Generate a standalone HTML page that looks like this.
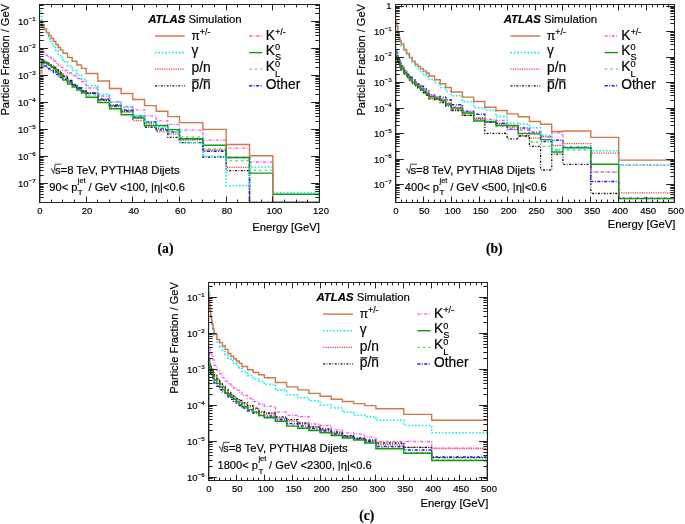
<!DOCTYPE html>
<html><head><meta charset="utf-8"><style>
html,body{margin:0;padding:0;background:#fff;}
svg{display:block;filter:blur(0.3px);}
text{font-family:"Liberation Sans", sans-serif;fill:#000;stroke:#000;stroke-width:0.18px;}
text.serif{font-family:"Liberation Serif", serif;}
</style></head><body>
<svg width="685" height="524" viewBox="0 0 685 524">
<rect width="685" height="524" fill="#fff"/>
<clipPath id="clipa"><rect x="39.5" y="4.5" width="280" height="198"/></clipPath>
<g clip-path="url(#clipa)" fill="none" stroke-linejoin="miter">
<path d="M39.5,204.5 L39.5,72 L41.83,72 L41.83,62 L44.17,62 L44.17,63 L46.5,63 L46.5,64.5 L48.83,64.5 L48.83,66 L51.17,66 L51.17,68 L53.5,68 L53.5,70 L55.83,70 L55.83,72 L58.17,72 L58.17,74 L60.5,74 L60.5,76 L62.83,76 L62.83,79 L67.5,79 L67.5,83 L72.17,83 L72.17,86 L76.83,86 L76.83,89 L81.5,89 L81.5,92 L86.17,92 L86.17,95 L97.83,95 L97.83,101 L109.5,101 L109.5,107 L121.17,107 L121.17,112 L132.83,112 L132.83,117 L144.5,117 L144.5,123 L156.17,123 L156.17,126 L167.83,126 L167.83,130 L179.5,130 L179.5,137 L202.83,137 L202.83,148.6 L226.17,148.6 L226.17,160.6 L249.5,160.6 L249.5,170.4 L272.83,170.4 L272.83,194.3 L319.5,194.3 L319.5,204.5" stroke="#5ee05e" stroke-width="1.3" stroke-dasharray="2.6 3"/>
<path d="M39.5,204.5 L39.5,80 L41.83,80 L41.83,60 L44.17,60 L44.17,62 L46.5,62 L46.5,63.5 L48.83,63.5 L48.83,65 L51.17,65 L51.17,67 L53.5,67 L53.5,68.5 L55.83,68.5 L55.83,70 L58.17,70 L58.17,72 L60.5,72 L60.5,74 L62.83,74 L62.83,77 L67.5,77 L67.5,81 L72.17,81 L72.17,85 L76.83,85 L76.83,88 L81.5,88 L81.5,91 L86.17,91 L86.17,93 L97.83,93 L97.83,100 L109.5,100 L109.5,106 L121.17,106 L121.17,112 L132.83,112 L132.83,120.5 L144.5,120.5 L144.5,124 L156.17,124 L156.17,131.9 L167.83,131.9 L167.83,134 L179.5,134 L179.5,140 L202.83,140 L202.83,150 L226.17,150 L226.17,167.4 L249.5,167.4 L249.5,202.5 L272.83,202.5 L272.83,202.5 L319.5,202.5 L319.5,204.5" stroke="#f23c3c" stroke-width="1.3" stroke-dasharray="1.2 1.1"/>
<path d="M39.5,204.5 L39.5,62 L41.83,62 L41.83,62 L44.17,62 L44.17,62.5 L46.5,62.5 L46.5,63 L48.83,63 L48.83,64 L51.17,64 L51.17,66 L53.5,66 L53.5,67.5 L55.83,67.5 L55.83,69 L58.17,69 L58.17,71 L60.5,71 L60.5,73 L62.83,73 L62.83,76 L67.5,76 L67.5,80.5 L72.17,80.5 L72.17,84.5 L76.83,84.5 L76.83,88 L81.5,88 L81.5,91 L86.17,91 L86.17,93.4 L97.83,93.4 L97.83,100 L109.5,100 L109.5,106 L121.17,106 L121.17,111 L132.83,111 L132.83,117.4 L144.5,117.4 L144.5,127.3 L156.17,127.3 L156.17,130 L167.83,130 L167.83,137.3 L179.5,137.3 L179.5,142.6 L202.83,142.6 L202.83,157 L226.17,157 L226.17,170.6 L249.5,170.6 L249.5,202.5 L272.83,202.5 L272.83,202.5 L319.5,202.5 L319.5,204.5" stroke="#111111" stroke-width="1.3" stroke-dasharray="2 1.5 0.8 1.5"/>
<path d="M39.5,204.5 L39.5,58 L41.83,58 L41.83,64 L44.17,64 L44.17,66 L46.5,66 L46.5,67.5 L48.83,67.5 L48.83,69 L51.17,69 L51.17,71 L53.5,71 L53.5,72.5 L55.83,72.5 L55.83,74.5 L58.17,74.5 L58.17,76.3 L60.5,76.3 L60.5,77.5 L62.83,77.5 L62.83,79 L67.5,79 L67.5,82 L72.17,82 L72.17,85 L76.83,85 L76.83,88 L81.5,88 L81.5,91 L86.17,91 L86.17,93 L97.83,93 L97.83,99 L109.5,99 L109.5,105 L121.17,105 L121.17,110 L132.83,110 L132.83,115.9 L144.5,115.9 L144.5,122 L156.17,122 L156.17,128.5 L167.83,128.5 L167.83,131.9 L179.5,131.9 L179.5,138.7 L202.83,138.7 L202.83,151.3 L226.17,151.3 L226.17,157.5 L249.5,157.5 L249.5,202.5 L272.83,202.5 L272.83,202.5 L319.5,202.5 L319.5,204.5" stroke="#1a1ae6" stroke-width="1.5" stroke-dasharray="3 1.5 0.9 1.5"/>
<path d="M39.5,204.5 L39.5,50 L41.83,50 L41.83,51.5 L44.17,51.5 L44.17,53.5 L46.5,53.5 L46.5,55.5 L48.83,55.5 L48.83,57.5 L51.17,57.5 L51.17,59 L53.5,59 L53.5,61 L55.83,61 L55.83,63 L58.17,63 L58.17,65.5 L60.5,65.5 L60.5,67.5 L62.83,67.5 L62.83,70.5 L67.5,70.5 L67.5,73 L72.17,73 L72.17,75.5 L76.83,75.5 L76.83,78.5 L81.5,78.5 L81.5,81.5 L86.17,81.5 L86.17,88 L97.83,88 L97.83,96 L109.5,96 L109.5,102 L121.17,102 L121.17,106.5 L132.83,106.5 L132.83,109.8 L144.5,109.8 L144.5,115.9 L156.17,115.9 L156.17,120.9 L167.83,120.9 L167.83,124.3 L179.5,124.3 L179.5,130.1 L202.83,130.1 L202.83,140.2 L226.17,140.2 L226.17,148.2 L249.5,148.2 L249.5,162 L272.83,162 L272.83,202.5 L319.5,202.5 L319.5,204.5" stroke="#f25ce0" stroke-width="1.3" stroke-dasharray="3 1.5 0.9 1.5"/>
<path d="M39.5,204.5 L39.5,68 L41.83,68 L41.83,60.5 L44.17,60.5 L44.17,62 L46.5,62 L46.5,63.5 L48.83,63.5 L48.83,65 L51.17,65 L51.17,67 L53.5,67 L53.5,69 L55.83,69 L55.83,71.5 L58.17,71.5 L58.17,73.5 L60.5,73.5 L60.5,76 L62.83,76 L62.83,80 L67.5,80 L67.5,84 L72.17,84 L72.17,87 L76.83,87 L76.83,90 L81.5,90 L81.5,93 L86.17,93 L86.17,97.3 L97.83,97.3 L97.83,102.6 L109.5,102.6 L109.5,108.7 L121.17,108.7 L121.17,114.8 L132.83,114.8 L132.83,118 L144.5,118 L144.5,125.8 L156.17,125.8 L156.17,125.5 L167.83,125.5 L167.83,129.6 L179.5,129.6 L179.5,138.8 L202.83,138.8 L202.83,145.3 L226.17,145.3 L226.17,157.5 L249.5,157.5 L249.5,173.1 L272.83,173.1 L272.83,194.3 L319.5,194.3 L319.5,204.5" stroke="#109a10" stroke-width="1.4"/>
<path d="M39.5,204.5 L39.5,11 L41.83,11 L41.83,22 L44.17,22 L44.17,29 L46.5,29 L46.5,34 L48.83,34 L48.83,39 L51.17,39 L51.17,43.5 L53.5,43.5 L53.5,47.5 L55.83,47.5 L55.83,51 L58.17,51 L58.17,54.3 L60.5,54.3 L60.5,57.5 L62.83,57.5 L62.83,61.7 L67.5,61.7 L67.5,66 L72.17,66 L72.17,70.5 L76.83,70.5 L76.83,75 L81.5,75 L81.5,79 L86.17,79 L86.17,85.8 L97.83,85.8 L97.83,94.2 L109.5,94.2 L109.5,101.8 L121.17,101.8 L121.17,107.2 L132.83,107.2 L132.83,115.9 L144.5,115.9 L144.5,122.4 L156.17,122.4 L156.17,127.6 L167.83,127.6 L167.83,131.9 L179.5,131.9 L179.5,142.6 L202.83,142.6 L202.83,156.3 L226.17,156.3 L226.17,185.7 L249.5,185.7 L249.5,167 L272.83,167 L272.83,192.5 L319.5,192.5 L319.5,204.5" stroke="#0aeef0" stroke-width="1.6" stroke-dasharray="1.6 1.8"/>
<path d="M39.5,204.5 L39.5,21 L41.83,21 L41.83,26 L44.17,26 L44.17,29.5 L46.5,29.5 L46.5,32.5 L48.83,32.5 L48.83,35.5 L51.17,35.5 L51.17,38.5 L53.5,38.5 L53.5,41.5 L55.83,41.5 L55.83,44.5 L58.17,44.5 L58.17,47.5 L60.5,47.5 L60.5,50 L62.83,50 L62.83,53.2 L67.5,53.2 L67.5,57.5 L72.17,57.5 L72.17,61.2 L76.83,61.2 L76.83,65 L81.5,65 L81.5,68.4 L86.17,68.4 L86.17,73.5 L97.83,73.5 L97.83,81 L109.5,81 L109.5,88.5 L121.17,88.5 L121.17,93.5 L132.83,93.5 L132.83,99.5 L144.5,99.5 L144.5,105.6 L156.17,105.6 L156.17,111.3 L167.83,111.3 L167.83,116.6 L179.5,116.6 L179.5,122.6 L202.83,122.6 L202.83,129.4 L226.17,129.4 L226.17,144.5 L249.5,144.5 L249.5,155.7 L272.83,155.7 L272.83,202.5 L319.5,202.5 L319.5,204.5" stroke="#cf7848" stroke-width="1.4"/>
</g>
<rect x="39.5" y="4.5" width="280" height="198" fill="none" stroke="#222" stroke-width="1"/>
<path d="M39.5,202.5v-5.9M39.5,4.5v5.9M51.5,202.5v-2.9M51.5,4.5v2.9M62.5,202.5v-2.9M62.5,4.5v2.9M74.5,202.5v-2.9M74.5,4.5v2.9M86.5,202.5v-5.9M86.5,4.5v5.9M97.5,202.5v-2.9M97.5,4.5v2.9M109.5,202.5v-2.9M109.5,4.5v2.9M121.5,202.5v-2.9M121.5,4.5v2.9M132.5,202.5v-5.9M132.5,4.5v5.9M144.5,202.5v-2.9M144.5,4.5v2.9M156.5,202.5v-2.9M156.5,4.5v2.9M167.5,202.5v-2.9M167.5,4.5v2.9M179.5,202.5v-5.9M179.5,4.5v5.9M191.5,202.5v-2.9M191.5,4.5v2.9M202.5,202.5v-2.9M202.5,4.5v2.9M214.5,202.5v-2.9M214.5,4.5v2.9M226.5,202.5v-5.9M226.5,4.5v5.9M237.5,202.5v-2.9M237.5,4.5v2.9M249.5,202.5v-2.9M249.5,4.5v2.9M261.5,202.5v-2.9M261.5,4.5v2.9M272.5,202.5v-5.9M272.5,4.5v5.9M284.5,202.5v-2.9M284.5,4.5v2.9M296.5,202.5v-2.9M296.5,4.5v2.9M307.5,202.5v-2.9M307.5,4.5v2.9M319.5,202.5v-5.9M319.5,4.5v5.9M39.5,202.5h4.2M319.5,202.5h-4.2M39.5,197.5h4.2M319.5,197.5h-4.2M39.5,194.5h4.2M319.5,194.5h-4.2M39.5,191.5h4.2M319.5,191.5h-4.2M39.5,189.5h4.2M319.5,189.5h-4.2M39.5,187.5h4.2M319.5,187.5h-4.2M39.5,186.5h4.2M319.5,186.5h-4.2M39.5,184.5h4.2M319.5,184.5h-4.2M39.5,183.5h8.4M319.5,183.5h-8.4M39.5,175.5h4.2M319.5,175.5h-4.2M39.5,170.5h4.2M319.5,170.5h-4.2M39.5,167.5h4.2M319.5,167.5h-4.2M39.5,164.5h4.2M319.5,164.5h-4.2M39.5,162.5h4.2M319.5,162.5h-4.2M39.5,160.5h4.2M319.5,160.5h-4.2M39.5,159.5h4.2M319.5,159.5h-4.2M39.5,157.5h4.2M319.5,157.5h-4.2M39.5,156.5h8.4M319.5,156.5h-8.4M39.5,148.5h4.2M319.5,148.5h-4.2M39.5,143.5h4.2M319.5,143.5h-4.2M39.5,140.5h4.2M319.5,140.5h-4.2M39.5,137.5h4.2M319.5,137.5h-4.2M39.5,135.5h4.2M319.5,135.5h-4.2M39.5,133.5h4.2M319.5,133.5h-4.2M39.5,132.5h4.2M319.5,132.5h-4.2M39.5,130.5h4.2M319.5,130.5h-4.2M39.5,129.5h8.4M319.5,129.5h-8.4M39.5,121.5h4.2M319.5,121.5h-4.2M39.5,116.5h4.2M319.5,116.5h-4.2M39.5,113.5h4.2M319.5,113.5h-4.2M39.5,110.5h4.2M319.5,110.5h-4.2M39.5,108.5h4.2M319.5,108.5h-4.2M39.5,106.5h4.2M319.5,106.5h-4.2M39.5,105.5h4.2M319.5,105.5h-4.2M39.5,103.5h4.2M319.5,103.5h-4.2M39.5,102.5h8.4M319.5,102.5h-8.4M39.5,94.5h4.2M319.5,94.5h-4.2M39.5,89.5h4.2M319.5,89.5h-4.2M39.5,86.5h4.2M319.5,86.5h-4.2M39.5,83.5h4.2M319.5,83.5h-4.2M39.5,81.5h4.2M319.5,81.5h-4.2M39.5,79.5h4.2M319.5,79.5h-4.2M39.5,78.5h4.2M319.5,78.5h-4.2M39.5,76.5h4.2M319.5,76.5h-4.2M39.5,75.5h8.4M319.5,75.5h-8.4M39.5,67.5h4.2M319.5,67.5h-4.2M39.5,62.5h4.2M319.5,62.5h-4.2M39.5,59.5h4.2M319.5,59.5h-4.2M39.5,56.5h4.2M319.5,56.5h-4.2M39.5,54.5h4.2M319.5,54.5h-4.2M39.5,52.5h4.2M319.5,52.5h-4.2M39.5,51.5h4.2M319.5,51.5h-4.2M39.5,49.5h4.2M319.5,49.5h-4.2M39.5,48.5h8.4M319.5,48.5h-8.4M39.5,40.5h4.2M319.5,40.5h-4.2M39.5,35.5h4.2M319.5,35.5h-4.2M39.5,32.5h4.2M319.5,32.5h-4.2M39.5,29.5h4.2M319.5,29.5h-4.2M39.5,27.5h4.2M319.5,27.5h-4.2M39.5,25.5h4.2M319.5,25.5h-4.2M39.5,24.5h4.2M319.5,24.5h-4.2M39.5,22.5h4.2M319.5,22.5h-4.2M39.5,21.5h8.4M319.5,21.5h-8.4M39.5,13.5h4.2M319.5,13.5h-4.2M39.5,8.5h4.2M319.5,8.5h-4.2M39.5,5.5h4.2M319.5,5.5h-4.2" stroke="#222" stroke-width="1" fill="none"/>
<text x="39.8" y="214.4" text-anchor="middle" font-size="9.5">0</text>
<text x="87.07" y="214.4" text-anchor="middle" font-size="9.5">20</text>
<text x="133.73" y="214.4" text-anchor="middle" font-size="9.5">40</text>
<text x="180.4" y="214.4" text-anchor="middle" font-size="9.5">60</text>
<text x="227.07" y="214.4" text-anchor="middle" font-size="9.5">80</text>
<text x="274.33" y="214.4" text-anchor="middle" font-size="9.5">100</text>
<text x="321" y="214.4" text-anchor="middle" font-size="9.5">120</text>
<text x="35.7" y="25" text-anchor="end" font-size="9.5">10<tspan font-size="6.2" dy="-4.2">−1</tspan></text>
<text x="35.7" y="52" text-anchor="end" font-size="9.5">10<tspan font-size="6.2" dy="-4.2">−2</tspan></text>
<text x="35.7" y="79" text-anchor="end" font-size="9.5">10<tspan font-size="6.2" dy="-4.2">−3</tspan></text>
<text x="35.7" y="106" text-anchor="end" font-size="9.5">10<tspan font-size="6.2" dy="-4.2">−4</tspan></text>
<text x="35.7" y="133" text-anchor="end" font-size="9.5">10<tspan font-size="6.2" dy="-4.2">−5</tspan></text>
<text x="35.7" y="160" text-anchor="end" font-size="9.5">10<tspan font-size="6.2" dy="-4.2">−6</tspan></text>
<text x="35.7" y="187" text-anchor="end" font-size="9.5">10<tspan font-size="6.2" dy="-4.2">−7</tspan></text>
<text x="320" y="230.7" text-anchor="end" font-size="11.3">Energy [GeV]</text>
<text transform="translate(9.3,4) rotate(-90)" text-anchor="end" font-size="11.1">Particle Fraction / GeV</text>
<text x="148.2" y="22.8" font-size="11.4"><tspan font-weight="bold" font-style="italic">ATLAS</tspan> Simulation</text>
<path d="M155,36h29.8" stroke="#cf7848" stroke-width="1.4"/>
<text x="191.6" y="39.8" font-size="12">π</text>
<text x="199.8" y="35.2" font-size="8.8">+/-</text>
<path d="M155,52.6h29.8" stroke="#0aeef0" stroke-width="1.6" stroke-dasharray="1.6 1.8"/>
<text x="191.6" y="55.4" font-size="13.8">γ</text>
<path d="M155,69.2h29.8" stroke="#f23c3c" stroke-width="1.3" stroke-dasharray="1.2 1.1"/>
<text x="191.6" y="72.4" font-size="13.8">p/n</text>
<path d="M155,85.8h29.8" stroke="#111111" stroke-width="1.3" stroke-dasharray="2 1.5 0.8 1.5"/>
<text x="191.6" y="88.5" font-size="13.8">p/n</text>
<path d="M192.2,79.8h6.8M203.2,79.8h6.8" stroke="#111" stroke-width="1.15"/>
<path d="M249.2,36h13.2" stroke="#f25ce0" stroke-width="1.3" stroke-dasharray="3 1.5 0.9 1.5"/>
<text x="265.8" y="39.7" font-size="13.8">K</text>
<text x="275.2" y="34.6" font-size="8.8">+/-</text>
<path d="M249.2,52.6h13.2" stroke="#109a10" stroke-width="1.4"/>
<text x="265.8" y="55.1" font-size="13.8">K</text>
<text x="275" y="50.4" font-size="9.2">0</text>
<text x="275" y="59.7" font-size="9.2">S</text>
<path d="M249.2,69.2h13.2" stroke="#5ee05e" stroke-width="1.3" stroke-dasharray="2.6 3"/>
<text x="265.8" y="71.2" font-size="13.8">K</text>
<text x="275" y="67.2" font-size="9.2">0</text>
<text x="275" y="76.5" font-size="9.2">L</text>
<path d="M249.2,85.8h13.2" stroke="#1a1ae6" stroke-width="1.5" stroke-dasharray="3 1.5 0.9 1.5"/>
<text x="265.8" y="88.6" font-size="13.8">Other</text>
<text x="54.9" y="173.7" font-size="11.3">s=8 TeV, PYTHIA8 Dijets</text>
<path d="M50.6,169.3l1.1,-0.7 l1.9,4.9 l1.7,-9.3 h6.2" stroke="#222" stroke-width="0.85" fill="none"/>
<text x="49.3" y="190.5" font-size="11.1">90&lt; p</text>
<text x="77.8" y="182.6" font-size="7.4">jet</text>
<text x="77.8" y="195.4" font-size="8">T</text>
<text x="85.4" y="190.5" font-size="11.1" xml:space="preserve"> / GeV &lt;100, |η|&lt;0.6</text>
<text x="165.5" y="252.6" text-anchor="middle" font-size="13.6" font-weight="bold" class="serif">(a)</text>
<clipPath id="clipb"><rect x="395.5" y="4.5" width="279" height="198"/></clipPath>
<g clip-path="url(#clipb)" fill="none" stroke-linejoin="miter">
<path d="M395.5,204.5 L395.5,53 L396.62,53 L396.62,57 L397.73,57 L397.73,60.5 L398.85,60.5 L398.85,63.5 L399.96,63.5 L399.96,66 L401.08,66 L401.08,68.5 L403.87,68.5 L403.87,73 L406.66,73 L406.66,76.33 L409.45,76.33 L409.45,79.5 L412.24,79.5 L412.24,82.5 L415.03,82.5 L415.03,85 L417.82,85 L417.82,87 L420.61,87 L420.61,89.25 L423.4,89.25 L423.4,91.75 L426.19,91.75 L426.19,94 L428.98,94 L428.98,97 L434.56,97 L434.56,99 L440.14,99 L440.14,101 L445.72,101 L445.72,104.5 L451.3,104.5 L451.3,109 L462.46,109 L462.46,114 L473.62,114 L473.62,119 L484.78,119 L484.78,122 L495.94,122 L495.94,126.6 L507.1,126.6 L507.1,127 L518.26,127 L518.26,135 L529.42,135 L529.42,142 L540.58,142 L540.58,146.3 L551.74,146.3 L551.74,150 L562.9,150 L562.9,150 L590.8,150 L590.8,172 L618.7,172 L618.7,198.6 L674.5,198.6 L674.5,204.5" stroke="#5ee05e" stroke-width="1.3" stroke-dasharray="2.6 3"/>
<path d="M395.5,204.5 L395.5,56 L396.62,56 L396.62,58.5 L397.73,58.5 L397.73,61.5 L398.85,61.5 L398.85,64.5 L399.96,64.5 L399.96,67 L401.08,67 L401.08,70 L403.87,70 L403.87,74 L406.66,74 L406.66,77 L409.45,77 L409.45,80 L412.24,80 L412.24,83 L415.03,83 L415.03,85.5 L417.82,85.5 L417.82,87.5 L420.61,87.5 L420.61,89.75 L423.4,89.75 L423.4,92.25 L426.19,92.25 L426.19,94.62 L428.98,94.62 L428.98,98 L434.56,98 L434.56,99.5 L440.14,99.5 L440.14,101.5 L445.72,101.5 L445.72,105 L451.3,105 L451.3,110 L462.46,110 L462.46,115.4 L473.62,115.4 L473.62,119.7 L484.78,119.7 L484.78,122 L495.94,122 L495.94,124 L507.1,124 L507.1,127 L518.26,127 L518.26,135.8 L529.42,135.8 L529.42,138.1 L540.58,138.1 L540.58,136.7 L551.74,136.7 L551.74,145.5 L562.9,145.5 L562.9,143.6 L590.8,143.6 L590.8,153.1 L618.7,153.1 L618.7,192.8 L674.5,192.8 L674.5,204.5" stroke="#f23c3c" stroke-width="1.3" stroke-dasharray="1.2 1.1"/>
<path d="M395.5,204.5 L395.5,55 L396.62,55 L396.62,58 L397.73,58 L397.73,61.5 L398.85,61.5 L398.85,64.5 L399.96,64.5 L399.96,67 L401.08,67 L401.08,70 L403.87,70 L403.87,74 L406.66,74 L406.66,77.33 L409.45,77.33 L409.45,80.55 L412.24,80.55 L412.24,83.65 L415.03,83.65 L415.03,86.15 L417.82,86.15 L417.82,88.05 L420.61,88.05 L420.61,90.25 L423.4,90.25 L423.4,92.75 L426.19,92.75 L426.19,95.22 L428.98,95.22 L428.98,98.9 L434.56,98.9 L434.56,99.7 L440.14,99.7 L440.14,102.5 L445.72,102.5 L445.72,106 L451.3,106 L451.3,110.5 L462.46,110.5 L462.46,115.4 L473.62,115.4 L473.62,118.2 L484.78,118.2 L484.78,133.4 L495.94,133.4 L495.94,133.4 L507.1,133.4 L507.1,138.8 L518.26,138.8 L518.26,136 L529.42,136 L529.42,146.3 L540.58,146.3 L540.58,170 L551.74,170 L551.74,154.1 L562.9,154.1 L562.9,164.3 L590.8,164.3 L590.8,193.5 L618.7,193.5 L618.7,202.5 L674.5,202.5 L674.5,204.5" stroke="#111111" stroke-width="1.3" stroke-dasharray="2 1.5 0.8 1.5"/>
<path d="M395.5,204.5 L395.5,48 L396.62,48 L396.62,53 L397.73,53 L397.73,57.5 L398.85,57.5 L398.85,60.5 L399.96,60.5 L399.96,63 L401.08,63 L401.08,66 L403.87,66 L403.87,70.5 L406.66,70.5 L406.66,74.17 L409.45,74.17 L409.45,77.35 L412.24,77.35 L412.24,80.05 L415.03,80.05 L415.03,82.35 L417.82,82.35 L417.82,84.25 L420.61,84.25 L420.61,86.35 L423.4,86.35 L423.4,88.65 L426.19,88.65 L426.19,91.1 L428.98,91.1 L428.98,95 L434.56,95 L434.56,96.6 L440.14,96.6 L440.14,97.2 L445.72,97.2 L445.72,100 L451.3,100 L451.3,104.8 L462.46,104.8 L462.46,111.2 L473.62,111.2 L473.62,114.3 L484.78,114.3 L484.78,122.3 L495.94,122.3 L495.94,123.2 L507.1,123.2 L507.1,129.2 L518.26,129.2 L518.26,128 L529.42,128 L529.42,132.4 L540.58,132.4 L540.58,141.5 L551.74,141.5 L551.74,140.3 L562.9,140.3 L562.9,147.2 L590.8,147.2 L590.8,181.6 L618.7,181.6 L618.7,198.2 L674.5,198.2 L674.5,204.5" stroke="#1a1ae6" stroke-width="1.5" stroke-dasharray="3 1.5 0.9 1.5"/>
<path d="M395.5,204.5 L395.5,50 L396.62,50 L396.62,55 L397.73,55 L397.73,59 L398.85,59 L398.85,62 L399.96,62 L399.96,64.5 L401.08,64.5 L401.08,67.5 L403.87,67.5 L403.87,71.5 L406.66,71.5 L406.66,75.17 L409.45,75.17 L409.45,78.38 L412.24,78.38 L412.24,81.12 L415.03,81.12 L415.03,83.5 L417.82,83.5 L417.82,85.5 L420.61,85.5 L420.61,87.62 L423.4,87.62 L423.4,89.88 L426.19,89.88 L426.19,92.12 L428.98,92.12 L428.98,95.5 L434.56,95.5 L434.56,97.5 L440.14,97.5 L440.14,99 L445.72,99 L445.72,102.5 L451.3,102.5 L451.3,107 L462.46,107 L462.46,112 L473.62,112 L473.62,118.2 L484.78,118.2 L484.78,119.4 L495.94,119.4 L495.94,120.5 L507.1,120.5 L507.1,129.6 L518.26,129.6 L518.26,130 L529.42,130 L529.42,132 L540.58,132 L540.58,137 L551.74,137 L551.74,132.9 L562.9,132.9 L562.9,148 L590.8,148 L590.8,172.2 L618.7,172.2 L618.7,165.2 L674.5,165.2 L674.5,204.5" stroke="#f25ce0" stroke-width="1.3" stroke-dasharray="3 1.5 0.9 1.5"/>
<path d="M395.5,204.5 L395.5,52 L396.62,52 L396.62,56 L397.73,56 L397.73,60 L398.85,60 L398.85,63 L399.96,63 L399.96,65.5 L401.08,65.5 L401.08,68 L403.87,68 L403.87,72.5 L406.66,72.5 L406.66,75.83 L409.45,75.83 L409.45,79.05 L412.24,79.05 L412.24,82.15 L415.03,82.15 L415.03,84.65 L417.82,84.65 L417.82,86.55 L420.61,86.55 L420.61,88.83 L423.4,88.83 L423.4,91.47 L426.19,91.47 L426.19,93.75 L428.98,93.75 L428.98,96.6 L434.56,96.6 L434.56,98.2 L440.14,98.2 L440.14,100.3 L445.72,100.3 L445.72,104 L451.3,104 L451.3,108 L462.46,108 L462.46,113 L473.62,113 L473.62,121 L484.78,121 L484.78,121.5 L495.94,121.5 L495.94,125.5 L507.1,125.5 L507.1,125.5 L518.26,125.5 L518.26,133.4 L529.42,133.4 L529.42,133.9 L540.58,133.9 L540.58,139.6 L551.74,139.6 L551.74,152 L562.9,152 L562.9,147.7 L590.8,147.7 L590.8,164.3 L618.7,164.3 L618.7,198.6 L674.5,198.6 L674.5,204.5" stroke="#109a10" stroke-width="1.4"/>
<path d="M395.5,204.5 L395.5,12 L396.62,12 L396.62,24 L397.73,24 L397.73,32 L398.85,32 L398.85,37.5 L399.96,37.5 L399.96,41.5 L401.08,41.5 L401.08,46 L403.87,46 L403.87,51.5 L406.66,51.5 L406.66,55.37 L409.45,55.37 L409.45,58.97 L412.24,58.97 L412.24,62.33 L415.03,62.33 L415.03,65.62 L417.82,65.62 L417.82,68.88 L420.61,68.88 L420.61,71.83 L423.4,71.83 L423.4,74.47 L426.19,74.47 L426.19,76.72 L428.98,76.72 L428.98,79.5 L434.56,79.5 L434.56,82.9 L440.14,82.9 L440.14,87.5 L445.72,87.5 L445.72,91.5 L451.3,91.5 L451.3,95.8 L462.46,95.8 L462.46,101.8 L473.62,101.8 L473.62,107.7 L484.78,107.7 L484.78,110 L495.94,110 L495.94,116.6 L507.1,116.6 L507.1,123.2 L518.26,123.2 L518.26,124 L529.42,124 L529.42,127.7 L540.58,127.7 L540.58,135.3 L551.74,135.3 L551.74,149.6 L562.9,149.6 L562.9,148.5 L590.8,148.5 L590.8,150.7 L618.7,150.7 L618.7,164.7 L674.5,164.7 L674.5,204.5" stroke="#0aeef0" stroke-width="1.6" stroke-dasharray="1.6 1.8"/>
<path d="M395.5,204.5 L395.5,21 L396.62,21 L396.62,26 L397.73,26 L397.73,33 L398.85,33 L398.85,38 L399.96,38 L399.96,40.6 L401.08,40.6 L401.08,44 L403.87,44 L403.87,49.5 L406.66,49.5 L406.66,53.5 L409.45,53.5 L409.45,57.38 L412.24,57.38 L412.24,61.12 L415.03,61.12 L415.03,64.12 L417.82,64.12 L417.82,66.38 L420.61,66.38 L420.61,68.62 L423.4,68.62 L423.4,70.88 L426.19,70.88 L426.19,73 L428.98,73 L428.98,76 L434.56,76 L434.56,79.8 L440.14,79.8 L440.14,83.7 L445.72,83.7 L445.72,87.5 L451.3,87.5 L451.3,92 L462.46,92 L462.46,97.1 L473.62,97.1 L473.62,101.5 L484.78,101.5 L484.78,107.3 L495.94,107.3 L495.94,110.5 L507.1,110.5 L507.1,113.9 L518.26,113.9 L518.26,116.7 L529.42,116.7 L529.42,121.5 L540.58,121.5 L540.58,124.3 L551.74,124.3 L551.74,131.5 L562.9,131.5 L562.9,131 L590.8,131 L590.8,137.4 L618.7,137.4 L618.7,160.1 L674.5,160.1 L674.5,204.5" stroke="#cf7848" stroke-width="1.4"/>
</g>
<rect x="395.5" y="4.5" width="279" height="198" fill="none" stroke="#222" stroke-width="1"/>
<path d="M395.5,202.5v-5.9M395.5,4.5v5.9M401.5,202.5v-2.9M401.5,4.5v2.9M406.5,202.5v-2.9M406.5,4.5v2.9M412.5,202.5v-2.9M412.5,4.5v2.9M417.5,202.5v-2.9M417.5,4.5v2.9M423.5,202.5v-5.9M423.5,4.5v5.9M428.5,202.5v-2.9M428.5,4.5v2.9M434.5,202.5v-2.9M434.5,4.5v2.9M440.5,202.5v-2.9M440.5,4.5v2.9M445.5,202.5v-2.9M445.5,4.5v2.9M451.5,202.5v-5.9M451.5,4.5v5.9M456.5,202.5v-2.9M456.5,4.5v2.9M462.5,202.5v-2.9M462.5,4.5v2.9M468.5,202.5v-2.9M468.5,4.5v2.9M473.5,202.5v-2.9M473.5,4.5v2.9M479.5,202.5v-5.9M479.5,4.5v5.9M484.5,202.5v-2.9M484.5,4.5v2.9M490.5,202.5v-2.9M490.5,4.5v2.9M495.5,202.5v-2.9M495.5,4.5v2.9M501.5,202.5v-2.9M501.5,4.5v2.9M507.5,202.5v-5.9M507.5,4.5v5.9M512.5,202.5v-2.9M512.5,4.5v2.9M518.5,202.5v-2.9M518.5,4.5v2.9M523.5,202.5v-2.9M523.5,4.5v2.9M529.5,202.5v-2.9M529.5,4.5v2.9M535.5,202.5v-5.9M535.5,4.5v5.9M540.5,202.5v-2.9M540.5,4.5v2.9M546.5,202.5v-2.9M546.5,4.5v2.9M551.5,202.5v-2.9M551.5,4.5v2.9M557.5,202.5v-2.9M557.5,4.5v2.9M562.5,202.5v-5.9M562.5,4.5v5.9M568.5,202.5v-2.9M568.5,4.5v2.9M574.5,202.5v-2.9M574.5,4.5v2.9M579.5,202.5v-2.9M579.5,4.5v2.9M585.5,202.5v-2.9M585.5,4.5v2.9M590.5,202.5v-5.9M590.5,4.5v5.9M596.5,202.5v-2.9M596.5,4.5v2.9M601.5,202.5v-2.9M601.5,4.5v2.9M607.5,202.5v-2.9M607.5,4.5v2.9M613.5,202.5v-2.9M613.5,4.5v2.9M618.5,202.5v-5.9M618.5,4.5v5.9M624.5,202.5v-2.9M624.5,4.5v2.9M629.5,202.5v-2.9M629.5,4.5v2.9M635.5,202.5v-2.9M635.5,4.5v2.9M641.5,202.5v-2.9M641.5,4.5v2.9M646.5,202.5v-5.9M646.5,4.5v5.9M652.5,202.5v-2.9M652.5,4.5v2.9M657.5,202.5v-2.9M657.5,4.5v2.9M663.5,202.5v-2.9M663.5,4.5v2.9M668.5,202.5v-2.9M668.5,4.5v2.9M674.5,202.5v-5.9M674.5,4.5v5.9M395.5,202.5h4.2M674.5,202.5h-4.2M395.5,197.5h4.2M674.5,197.5h-4.2M395.5,194.5h4.2M674.5,194.5h-4.2M395.5,192.5h4.2M674.5,192.5h-4.2M395.5,190.5h4.2M674.5,190.5h-4.2M395.5,188.5h4.2M674.5,188.5h-4.2M395.5,187.5h4.2M674.5,187.5h-4.2M395.5,185.5h4.2M674.5,185.5h-4.2M395.5,184.5h8.4M674.5,184.5h-8.4M395.5,176.5h4.2M674.5,176.5h-4.2M395.5,172.5h4.2M674.5,172.5h-4.2M395.5,169.5h4.2M674.5,169.5h-4.2M395.5,166.5h4.2M674.5,166.5h-4.2M395.5,164.5h4.2M674.5,164.5h-4.2M395.5,163.5h4.2M674.5,163.5h-4.2M395.5,161.5h4.2M674.5,161.5h-4.2M395.5,160.5h4.2M674.5,160.5h-4.2M395.5,159.5h8.4M674.5,159.5h-8.4M395.5,151.5h4.2M674.5,151.5h-4.2M395.5,146.5h4.2M674.5,146.5h-4.2M395.5,143.5h4.2M674.5,143.5h-4.2M395.5,141.5h4.2M674.5,141.5h-4.2M395.5,139.5h4.2M674.5,139.5h-4.2M395.5,137.5h4.2M674.5,137.5h-4.2M395.5,136.5h4.2M674.5,136.5h-4.2M395.5,134.5h4.2M674.5,134.5h-4.2M395.5,133.5h8.4M674.5,133.5h-8.4M395.5,125.5h4.2M674.5,125.5h-4.2M395.5,121.5h4.2M674.5,121.5h-4.2M395.5,118.5h4.2M674.5,118.5h-4.2M395.5,115.5h4.2M674.5,115.5h-4.2M395.5,113.5h4.2M674.5,113.5h-4.2M395.5,112.5h4.2M674.5,112.5h-4.2M395.5,110.5h4.2M674.5,110.5h-4.2M395.5,109.5h4.2M674.5,109.5h-4.2M395.5,108.5h8.4M674.5,108.5h-8.4M395.5,100.5h4.2M674.5,100.5h-4.2M395.5,95.5h4.2M674.5,95.5h-4.2M395.5,92.5h4.2M674.5,92.5h-4.2M395.5,90.5h4.2M674.5,90.5h-4.2M395.5,88.5h4.2M674.5,88.5h-4.2M395.5,86.5h4.2M674.5,86.5h-4.2M395.5,85.5h4.2M674.5,85.5h-4.2M395.5,83.5h4.2M674.5,83.5h-4.2M395.5,82.5h8.4M674.5,82.5h-8.4M395.5,74.5h4.2M674.5,74.5h-4.2M395.5,70.5h4.2M674.5,70.5h-4.2M395.5,67.5h4.2M674.5,67.5h-4.2M395.5,64.5h4.2M674.5,64.5h-4.2M395.5,62.5h4.2M674.5,62.5h-4.2M395.5,61.5h4.2M674.5,61.5h-4.2M395.5,59.5h4.2M674.5,59.5h-4.2M395.5,58.5h4.2M674.5,58.5h-4.2M395.5,57.5h8.4M674.5,57.5h-8.4M395.5,49.5h4.2M674.5,49.5h-4.2M395.5,44.5h4.2M674.5,44.5h-4.2M395.5,41.5h4.2M674.5,41.5h-4.2M395.5,39.5h4.2M674.5,39.5h-4.2M395.5,37.5h4.2M674.5,37.5h-4.2M395.5,35.5h4.2M674.5,35.5h-4.2M395.5,34.5h4.2M674.5,34.5h-4.2M395.5,32.5h4.2M674.5,32.5h-4.2M395.5,31.5h8.4M674.5,31.5h-8.4M395.5,23.5h4.2M674.5,23.5h-4.2M395.5,19.5h4.2M674.5,19.5h-4.2M395.5,16.5h4.2M674.5,16.5h-4.2M395.5,13.5h4.2M674.5,13.5h-4.2M395.5,11.5h4.2M674.5,11.5h-4.2M395.5,10.5h4.2M674.5,10.5h-4.2M395.5,8.5h4.2M674.5,8.5h-4.2M395.5,7.5h4.2M674.5,7.5h-4.2M395.5,6.5h8.4M674.5,6.5h-8.4" stroke="#222" stroke-width="1" fill="none"/>
<text x="395.8" y="214.4" text-anchor="middle" font-size="9.5">0</text>
<text x="424.3" y="214.4" text-anchor="middle" font-size="9.5">50</text>
<text x="452.8" y="214.4" text-anchor="middle" font-size="9.5">100</text>
<text x="480.7" y="214.4" text-anchor="middle" font-size="9.5">150</text>
<text x="508.6" y="214.4" text-anchor="middle" font-size="9.5">200</text>
<text x="536.5" y="214.4" text-anchor="middle" font-size="9.5">250</text>
<text x="564.4" y="214.4" text-anchor="middle" font-size="9.5">300</text>
<text x="592.3" y="214.4" text-anchor="middle" font-size="9.5">350</text>
<text x="620.2" y="214.4" text-anchor="middle" font-size="9.5">400</text>
<text x="648.1" y="214.4" text-anchor="middle" font-size="9.5">450</text>
<text x="676" y="214.4" text-anchor="middle" font-size="9.5">500</text>
<text x="391.5" y="8.5" text-anchor="end" font-size="9.5">1</text>
<text x="391.7" y="35" text-anchor="end" font-size="9.5">10<tspan font-size="6.2" dy="-4.2">−1</tspan></text>
<text x="391.7" y="60.5" text-anchor="end" font-size="9.5">10<tspan font-size="6.2" dy="-4.2">−2</tspan></text>
<text x="391.7" y="86" text-anchor="end" font-size="9.5">10<tspan font-size="6.2" dy="-4.2">−3</tspan></text>
<text x="391.7" y="111.5" text-anchor="end" font-size="9.5">10<tspan font-size="6.2" dy="-4.2">−4</tspan></text>
<text x="391.7" y="137" text-anchor="end" font-size="9.5">10<tspan font-size="6.2" dy="-4.2">−5</tspan></text>
<text x="391.7" y="162.5" text-anchor="end" font-size="9.5">10<tspan font-size="6.2" dy="-4.2">−6</tspan></text>
<text x="391.7" y="188" text-anchor="end" font-size="9.5">10<tspan font-size="6.2" dy="-4.2">−7</tspan></text>
<text x="675.5" y="228.1" text-anchor="end" font-size="11.3">Energy [GeV]</text>
<text transform="translate(364.8,4) rotate(-90)" text-anchor="end" font-size="11.1">Particle Fraction / GeV</text>
<text x="503.7" y="22.8" font-size="11.4"><tspan font-weight="bold" font-style="italic">ATLAS</tspan> Simulation</text>
<path d="M510.5,36h29.8" stroke="#cf7848" stroke-width="1.4"/>
<text x="547.1" y="39.8" font-size="12">π</text>
<text x="555.3" y="35.2" font-size="8.8">+/-</text>
<path d="M510.5,52.6h29.8" stroke="#0aeef0" stroke-width="1.6" stroke-dasharray="1.6 1.8"/>
<text x="547.1" y="55.4" font-size="13.8">γ</text>
<path d="M510.5,69.2h29.8" stroke="#f23c3c" stroke-width="1.3" stroke-dasharray="1.2 1.1"/>
<text x="547.1" y="72.4" font-size="13.8">p/n</text>
<path d="M510.5,85.8h29.8" stroke="#111111" stroke-width="1.3" stroke-dasharray="2 1.5 0.8 1.5"/>
<text x="547.1" y="88.5" font-size="13.8">p/n</text>
<path d="M547.7,79.8h6.8M558.7,79.8h6.8" stroke="#111" stroke-width="1.15"/>
<path d="M604.7,36h13.2" stroke="#f25ce0" stroke-width="1.3" stroke-dasharray="3 1.5 0.9 1.5"/>
<text x="621.3" y="39.7" font-size="13.8">K</text>
<text x="630.7" y="34.6" font-size="8.8">+/-</text>
<path d="M604.7,52.6h13.2" stroke="#109a10" stroke-width="1.4"/>
<text x="621.3" y="55.1" font-size="13.8">K</text>
<text x="630.5" y="50.4" font-size="9.2">0</text>
<text x="630.5" y="59.7" font-size="9.2">S</text>
<path d="M604.7,69.2h13.2" stroke="#5ee05e" stroke-width="1.3" stroke-dasharray="2.6 3"/>
<text x="621.3" y="71.2" font-size="13.8">K</text>
<text x="630.5" y="67.2" font-size="9.2">0</text>
<text x="630.5" y="76.5" font-size="9.2">L</text>
<path d="M604.7,85.8h13.2" stroke="#1a1ae6" stroke-width="1.5" stroke-dasharray="3 1.5 0.9 1.5"/>
<text x="621.3" y="88.6" font-size="13.8">Other</text>
<text x="410.4" y="173.7" font-size="11.3">s=8 TeV, PYTHIA8 Dijets</text>
<path d="M406.1,169.3l1.1,-0.7 l1.9,4.9 l1.7,-9.3 h6.2" stroke="#222" stroke-width="0.85" fill="none"/>
<text x="404.8" y="190.5" font-size="11.1">400&lt; p</text>
<text x="439.5" y="182.6" font-size="7.4">jet</text>
<text x="439.5" y="195.4" font-size="8">T</text>
<text x="447.1" y="190.5" font-size="11.1" xml:space="preserve"> / GeV &lt;500, |η|&lt;0.6</text>
<text x="494.3" y="252.7" text-anchor="middle" font-size="13.6" font-weight="bold" class="serif">(b)</text>
<clipPath id="clipc"><rect x="208.5" y="282.5" width="279" height="198"/></clipPath>
<g clip-path="url(#clipc)" fill="none" stroke-linejoin="miter">
<path d="M208.5,482.5 L208.5,361 L209.06,361 L209.06,363.79 L209.62,363.79 L209.62,366.59 L210.17,366.59 L210.17,369.38 L210.73,369.38 L210.73,371.22 L211.29,371.22 L211.29,372.42 L211.85,372.42 L211.85,374.21 L212.96,374.21 L212.96,376.61 L214.08,376.61 L214.08,380.06 L216.87,380.06 L216.87,383.6 L219.66,383.6 L219.66,387.15 L222.45,387.15 L222.45,389.94 L225.24,389.94 L225.24,392.65 L228.03,392.65 L228.03,395.04 L230.82,395.04 L230.82,397.12 L233.61,397.12 L233.61,399.21 L236.4,399.21 L236.4,401.29 L239.19,401.29 L239.19,403.38 L241.98,403.38 L241.98,406 L247.56,406 L247.56,409 L253.14,409 L253.14,411.58 L258.72,411.58 L258.72,414.5 L264.3,414.5 L264.3,417 L275.46,417 L275.46,420.5 L286.62,420.5 L286.62,425 L297.78,425 L297.78,427.5 L308.94,427.5 L308.94,430 L320.1,430 L320.1,432 L331.26,432 L331.26,435 L342.42,435 L342.42,437.5 L353.58,437.5 L353.58,439.5 L364.74,439.5 L364.74,442.5 L375.9,442.5 L375.9,448 L403.8,448 L403.8,452.5 L431.7,452.5 L431.7,460 L487.5,460 L487.5,482.5" stroke="#5ee05e" stroke-width="1.3" stroke-dasharray="2.6 3"/>
<path d="M208.5,482.5 L208.5,362 L209.06,362 L209.06,363.47 L209.62,363.47 L209.62,364.94 L210.17,364.94 L210.17,366.41 L210.73,366.41 L210.73,367.68 L211.29,367.68 L211.29,368.8 L211.85,368.8 L211.85,370.49 L212.96,370.49 L212.96,372.75 L214.08,372.75 L214.08,376.19 L216.87,376.19 L216.87,380.15 L219.66,380.15 L219.66,384.1 L222.45,384.1 L222.45,387.5 L225.24,387.5 L225.24,390.83 L228.03,390.83 L228.03,393.65 L230.82,393.65 L230.82,395.94 L233.61,395.94 L233.61,398.17 L236.4,398.17 L236.4,399.83 L239.19,399.83 L239.19,401.5 L241.98,401.5 L241.98,404 L247.56,404 L247.56,406.83 L253.14,406.83 L253.14,409.17 L258.72,409.17 L258.72,412.5 L264.3,412.5 L264.3,414 L275.46,414 L275.46,418 L286.62,418 L286.62,421 L297.78,421 L297.78,424 L308.94,424 L308.94,427 L320.1,427 L320.1,430 L331.26,430 L331.26,433 L342.42,433 L342.42,436.5 L353.58,436.5 L353.58,439 L364.74,439 L364.74,441 L375.9,441 L375.9,444.5 L403.8,444.5 L403.8,447.4 L431.7,447.4 L431.7,448.5 L487.5,448.5 L487.5,482.5" stroke="#f23c3c" stroke-width="1.3" stroke-dasharray="1.2 1.1"/>
<path d="M208.5,482.5 L208.5,361.5 L209.06,361.5 L209.06,362.82 L209.62,362.82 L209.62,364.15 L210.17,364.15 L210.17,365.47 L210.73,365.47 L210.73,366.68 L211.29,366.68 L211.29,367.8 L211.85,367.8 L211.85,369.49 L212.96,369.49 L212.96,371.75 L214.08,371.75 L214.08,375.18 L216.87,375.18 L216.87,379.09 L219.66,379.09 L219.66,383.01 L222.45,383.01 L222.45,386.4 L225.24,386.4 L225.24,389.73 L228.03,389.73 L228.03,392.52 L230.82,392.52 L230.82,394.77 L233.61,394.77 L233.61,396.97 L236.4,396.97 L236.4,398.63 L239.19,398.63 L239.19,400.3 L241.98,400.3 L241.98,402.8 L247.56,402.8 L247.56,405.67 L253.14,405.67 L253.14,408.07 L258.72,408.07 L258.72,411.4 L264.3,411.4 L264.3,413 L275.46,413 L275.46,416.8 L286.62,416.8 L286.62,419.6 L297.78,419.6 L297.78,423 L308.94,423 L308.94,426.9 L320.1,426.9 L320.1,429 L331.26,429 L331.26,432 L342.42,432 L342.42,435.7 L353.58,435.7 L353.58,438 L364.74,438 L364.74,440 L375.9,440 L375.9,443 L403.8,443 L403.8,447.4 L431.7,447.4 L431.7,457.6 L487.5,457.6 L487.5,482.5" stroke="#111111" stroke-width="1.3" stroke-dasharray="2 1.5 0.8 1.5"/>
<path d="M208.5,482.5 L208.5,352 L209.06,352 L209.06,358.09 L209.62,358.09 L209.62,364.18 L210.17,364.18 L210.17,370.26 L210.73,370.26 L210.73,373.49 L211.29,373.49 L211.29,374.8 L211.85,374.8 L211.85,376.76 L212.96,376.76 L212.96,379.38 L214.08,379.38 L214.08,383 L216.87,383 L216.87,386.33 L219.66,386.33 L219.66,389.67 L222.45,389.67 L222.45,392.02 L225.24,392.02 L225.24,394.27 L228.03,394.27 L228.03,396.65 L230.82,396.65 L230.82,399.15 L233.61,399.15 L233.61,401.6 L236.4,401.6 L236.4,403.55 L239.19,403.55 L239.19,405.51 L241.98,405.51 L241.98,408.05 L247.56,408.05 L247.56,410.9 L253.14,410.9 L253.14,413.17 L258.72,413.17 L258.72,415.5 L264.3,415.5 L264.3,416 L275.46,416 L275.46,419.5 L286.62,419.5 L286.62,423.5 L297.78,423.5 L297.78,426 L308.94,426 L308.94,428.5 L320.1,428.5 L320.1,431 L331.26,431 L331.26,434 L342.42,434 L342.42,436.5 L353.58,436.5 L353.58,439 L364.74,439 L364.74,441.5 L375.9,441.5 L375.9,446.5 L403.8,446.5 L403.8,450 L431.7,450 L431.7,457 L487.5,457 L487.5,482.5" stroke="#1a1ae6" stroke-width="1.5" stroke-dasharray="3 1.5 0.9 1.5"/>
<path d="M208.5,482.5 L208.5,347 L209.06,347 L209.06,348.5 L209.62,348.5 L209.62,350 L210.17,350 L210.17,351.41 L210.73,351.41 L210.73,352.79 L211.29,352.79 L211.29,354.17 L211.85,354.17 L211.85,356.54 L212.96,356.54 L212.96,359.95 L214.08,359.95 L214.08,365.39 L216.87,365.39 L216.87,370.69 L219.66,370.69 L219.66,373.67 L222.45,373.67 L222.45,377.71 L225.24,377.71 L225.24,381.15 L228.03,381.15 L228.03,383.78 L230.82,383.78 L230.82,386.26 L233.61,386.26 L233.61,388.4 L236.4,388.4 L236.4,390.2 L239.19,390.2 L239.19,392.2 L241.98,392.2 L241.98,395.5 L247.56,395.5 L247.56,398.5 L253.14,398.5 L253.14,401.6 L258.72,401.6 L258.72,404 L264.3,404 L264.3,406.3 L275.46,406.3 L275.46,412.1 L286.62,412.1 L286.62,415.3 L297.78,415.3 L297.78,416.7 L308.94,416.7 L308.94,424 L320.1,424 L320.1,425.5 L331.26,425.5 L331.26,429.9 L342.42,429.9 L342.42,432.8 L353.58,432.8 L353.58,434.2 L364.74,434.2 L364.74,437.2 L375.9,437.2 L375.9,441.5 L403.8,441.5 L403.8,441.5 L431.7,441.5 L431.7,448.2 L487.5,448.2 L487.5,482.5" stroke="#f25ce0" stroke-width="1.3" stroke-dasharray="3 1.5 0.9 1.5"/>
<path d="M208.5,482.5 L208.5,360 L209.06,360 L209.06,362.94 L209.62,362.94 L209.62,365.88 L210.17,365.88 L210.17,368.82 L210.73,368.82 L210.73,370.74 L211.29,370.74 L211.29,371.96 L211.85,371.96 L211.85,373.8 L212.96,373.8 L212.96,376.25 L214.08,376.25 L214.08,379.79 L216.87,379.79 L216.87,383.41 L219.66,383.41 L219.66,387.04 L222.45,387.04 L222.45,389.91 L225.24,389.91 L225.24,392.7 L228.03,392.7 L228.03,395.2 L230.82,395.2 L230.82,397.41 L233.61,397.41 L233.61,399.62 L236.4,399.62 L236.4,401.88 L239.19,401.88 L239.19,404.12 L241.98,404.12 L241.98,406.8 L247.56,406.8 L247.56,409.67 L253.14,409.67 L253.14,412.08 L258.72,412.08 L258.72,415.5 L264.3,415.5 L264.3,417.8 L275.46,417.8 L275.46,421.2 L286.62,421.2 L286.62,426.1 L297.78,426.1 L297.78,428.3 L308.94,428.3 L308.94,430.5 L320.1,430.5 L320.1,432.8 L331.26,432.8 L331.26,435.5 L342.42,435.5 L342.42,438 L353.58,438 L353.58,440.1 L364.74,440.1 L364.74,443 L375.9,443 L375.9,448.8 L403.8,448.8 L403.8,453.2 L431.7,453.2 L431.7,460.5 L487.5,460.5 L487.5,482.5" stroke="#109a10" stroke-width="1.4"/>
<path d="M208.5,482.5 L208.5,287 L209.06,287 L209.06,295 L209.62,295 L209.62,303 L210.17,303 L210.17,309 L210.73,309 L210.73,315 L211.29,315 L211.29,319.67 L211.85,319.67 L211.85,324.67 L212.96,324.67 L212.96,329.63 L214.08,329.63 L214.08,335.35 L216.87,335.35 L216.87,341.75 L219.66,341.75 L219.66,347.08 L222.45,347.08 L222.45,351.45 L225.24,351.45 L225.24,355.12 L228.03,355.12 L228.03,358.19 L230.82,358.19 L230.82,360.62 L233.61,360.62 L233.61,363.1 L236.4,363.1 L236.4,365.61 L239.19,365.61 L239.19,368.25 L241.98,368.25 L241.98,371.67 L247.56,371.67 L247.56,375.66 L253.14,375.66 L253.14,378.94 L258.72,378.94 L258.72,381.5 L264.3,381.5 L264.3,384.4 L275.46,384.4 L275.46,390.1 L286.62,390.1 L286.62,394.8 L297.78,394.8 L297.78,397.7 L308.94,397.7 L308.94,400.7 L320.1,400.7 L320.1,405 L331.26,405 L331.26,408 L342.42,408 L342.42,412.3 L353.58,412.3 L353.58,415.3 L364.74,415.3 L364.74,416.7 L375.9,416.7 L375.9,420.2 L403.8,420.2 L403.8,425.5 L431.7,425.5 L431.7,432.8 L487.5,432.8 L487.5,482.5" stroke="#0aeef0" stroke-width="1.6" stroke-dasharray="1.6 1.8"/>
<path d="M208.5,482.5 L208.5,292 L209.06,292 L209.06,298.5 L209.62,298.5 L209.62,305 L210.17,305 L210.17,310.2 L210.73,310.2 L210.73,315.4 L211.29,315.4 L211.29,319.5 L211.85,319.5 L211.85,324 L212.96,324 L212.96,328.63 L214.08,328.63 L214.08,334.35 L216.87,334.35 L216.87,339.5 L219.66,339.5 L219.66,342.6 L222.45,342.6 L222.45,345.76 L225.24,345.76 L225.24,349.41 L228.03,349.41 L228.03,353.43 L230.82,353.43 L230.82,356.23 L233.61,356.23 L233.61,358.8 L236.4,358.8 L236.4,361.07 L239.19,361.07 L239.19,363.26 L241.98,363.26 L241.98,366.5 L247.56,366.5 L247.56,369.8 L253.14,369.8 L253.14,372.5 L258.72,372.5 L258.72,374.8 L264.3,374.8 L264.3,377.7 L275.46,377.7 L275.46,382.5 L286.62,382.5 L286.62,386.9 L297.78,386.9 L297.78,389.9 L308.94,389.9 L308.94,393.4 L320.1,393.4 L320.1,396.3 L331.26,396.3 L331.26,399.2 L342.42,399.2 L342.42,401.5 L353.58,401.5 L353.58,403.6 L364.74,403.6 L364.74,405.6 L375.9,405.6 L375.9,408.8 L403.8,408.8 L403.8,414.4 L431.7,414.4 L431.7,420.2 L487.5,420.2 L487.5,482.5" stroke="#cf7848" stroke-width="1.4"/>
</g>
<rect x="208.5" y="282.5" width="279" height="198" fill="none" stroke="#222" stroke-width="1"/>
<path d="M208.5,480.5v-5.9M208.5,282.5v5.9M214.5,480.5v-2.9M214.5,282.5v2.9M219.5,480.5v-2.9M219.5,282.5v2.9M225.5,480.5v-2.9M225.5,282.5v2.9M230.5,480.5v-2.9M230.5,282.5v2.9M236.5,480.5v-5.9M236.5,282.5v5.9M241.5,480.5v-2.9M241.5,282.5v2.9M247.5,480.5v-2.9M247.5,282.5v2.9M253.5,480.5v-2.9M253.5,282.5v2.9M258.5,480.5v-2.9M258.5,282.5v2.9M264.5,480.5v-5.9M264.5,282.5v5.9M269.5,480.5v-2.9M269.5,282.5v2.9M275.5,480.5v-2.9M275.5,282.5v2.9M281.5,480.5v-2.9M281.5,282.5v2.9M286.5,480.5v-2.9M286.5,282.5v2.9M292.5,480.5v-5.9M292.5,282.5v5.9M297.5,480.5v-2.9M297.5,282.5v2.9M303.5,480.5v-2.9M303.5,282.5v2.9M308.5,480.5v-2.9M308.5,282.5v2.9M314.5,480.5v-2.9M314.5,282.5v2.9M320.5,480.5v-5.9M320.5,282.5v5.9M325.5,480.5v-2.9M325.5,282.5v2.9M331.5,480.5v-2.9M331.5,282.5v2.9M336.5,480.5v-2.9M336.5,282.5v2.9M342.5,480.5v-2.9M342.5,282.5v2.9M348.5,480.5v-5.9M348.5,282.5v5.9M353.5,480.5v-2.9M353.5,282.5v2.9M359.5,480.5v-2.9M359.5,282.5v2.9M364.5,480.5v-2.9M364.5,282.5v2.9M370.5,480.5v-2.9M370.5,282.5v2.9M375.5,480.5v-5.9M375.5,282.5v5.9M381.5,480.5v-2.9M381.5,282.5v2.9M387.5,480.5v-2.9M387.5,282.5v2.9M392.5,480.5v-2.9M392.5,282.5v2.9M398.5,480.5v-2.9M398.5,282.5v2.9M403.5,480.5v-5.9M403.5,282.5v5.9M409.5,480.5v-2.9M409.5,282.5v2.9M414.5,480.5v-2.9M414.5,282.5v2.9M420.5,480.5v-2.9M420.5,282.5v2.9M426.5,480.5v-2.9M426.5,282.5v2.9M431.5,480.5v-5.9M431.5,282.5v5.9M437.5,480.5v-2.9M437.5,282.5v2.9M442.5,480.5v-2.9M442.5,282.5v2.9M448.5,480.5v-2.9M448.5,282.5v2.9M454.5,480.5v-2.9M454.5,282.5v2.9M459.5,480.5v-5.9M459.5,282.5v5.9M465.5,480.5v-2.9M465.5,282.5v2.9M470.5,480.5v-2.9M470.5,282.5v2.9M476.5,480.5v-2.9M476.5,282.5v2.9M481.5,480.5v-2.9M481.5,282.5v2.9M487.5,480.5v-5.9M487.5,282.5v5.9M208.5,478.5h4.2M487.5,478.5h-4.2M208.5,477.5h8.4M487.5,477.5h-8.4M208.5,466.5h4.2M487.5,466.5h-4.2M208.5,460.5h4.2M487.5,460.5h-4.2M208.5,455.5h4.2M487.5,455.5h-4.2M208.5,452.5h4.2M487.5,452.5h-4.2M208.5,449.5h4.2M487.5,449.5h-4.2M208.5,446.5h4.2M487.5,446.5h-4.2M208.5,444.5h4.2M487.5,444.5h-4.2M208.5,442.5h4.2M487.5,442.5h-4.2M208.5,441.5h8.4M487.5,441.5h-8.4M208.5,430.5h4.2M487.5,430.5h-4.2M208.5,424.5h4.2M487.5,424.5h-4.2M208.5,419.5h4.2M487.5,419.5h-4.2M208.5,416.5h4.2M487.5,416.5h-4.2M208.5,413.5h4.2M487.5,413.5h-4.2M208.5,410.5h4.2M487.5,410.5h-4.2M208.5,408.5h4.2M487.5,408.5h-4.2M208.5,406.5h4.2M487.5,406.5h-4.2M208.5,405.5h8.4M487.5,405.5h-8.4M208.5,394.5h4.2M487.5,394.5h-4.2M208.5,388.5h4.2M487.5,388.5h-4.2M208.5,383.5h4.2M487.5,383.5h-4.2M208.5,380.5h4.2M487.5,380.5h-4.2M208.5,377.5h4.2M487.5,377.5h-4.2M208.5,374.5h4.2M487.5,374.5h-4.2M208.5,372.5h4.2M487.5,372.5h-4.2M208.5,370.5h4.2M487.5,370.5h-4.2M208.5,369.5h8.4M487.5,369.5h-8.4M208.5,358.5h4.2M487.5,358.5h-4.2M208.5,352.5h4.2M487.5,352.5h-4.2M208.5,347.5h4.2M487.5,347.5h-4.2M208.5,344.5h4.2M487.5,344.5h-4.2M208.5,341.5h4.2M487.5,341.5h-4.2M208.5,338.5h4.2M487.5,338.5h-4.2M208.5,336.5h4.2M487.5,336.5h-4.2M208.5,334.5h4.2M487.5,334.5h-4.2M208.5,333.5h8.4M487.5,333.5h-8.4M208.5,322.5h4.2M487.5,322.5h-4.2M208.5,316.5h4.2M487.5,316.5h-4.2M208.5,311.5h4.2M487.5,311.5h-4.2M208.5,308.5h4.2M487.5,308.5h-4.2M208.5,305.5h4.2M487.5,305.5h-4.2M208.5,302.5h4.2M487.5,302.5h-4.2M208.5,300.5h4.2M487.5,300.5h-4.2M208.5,298.5h4.2M487.5,298.5h-4.2M208.5,297.5h8.4M487.5,297.5h-8.4M208.5,286.5h4.2M487.5,286.5h-4.2" stroke="#222" stroke-width="1" fill="none"/>
<text x="208.8" y="492.4" text-anchor="middle" font-size="9.5">0</text>
<text x="237.3" y="492.4" text-anchor="middle" font-size="9.5">50</text>
<text x="265.8" y="492.4" text-anchor="middle" font-size="9.5">100</text>
<text x="293.7" y="492.4" text-anchor="middle" font-size="9.5">150</text>
<text x="321.6" y="492.4" text-anchor="middle" font-size="9.5">200</text>
<text x="349.5" y="492.4" text-anchor="middle" font-size="9.5">250</text>
<text x="377.4" y="492.4" text-anchor="middle" font-size="9.5">300</text>
<text x="405.3" y="492.4" text-anchor="middle" font-size="9.5">350</text>
<text x="433.2" y="492.4" text-anchor="middle" font-size="9.5">400</text>
<text x="461.1" y="492.4" text-anchor="middle" font-size="9.5">450</text>
<text x="489" y="492.4" text-anchor="middle" font-size="9.5">500</text>
<text x="204.7" y="300.7" text-anchor="end" font-size="9.5">10<tspan font-size="6.2" dy="-4.2">−1</tspan></text>
<text x="204.7" y="336.7" text-anchor="end" font-size="9.5">10<tspan font-size="6.2" dy="-4.2">−2</tspan></text>
<text x="204.7" y="372.7" text-anchor="end" font-size="9.5">10<tspan font-size="6.2" dy="-4.2">−3</tspan></text>
<text x="204.7" y="408.7" text-anchor="end" font-size="9.5">10<tspan font-size="6.2" dy="-4.2">−4</tspan></text>
<text x="204.7" y="444.7" text-anchor="end" font-size="9.5">10<tspan font-size="6.2" dy="-4.2">−5</tspan></text>
<text x="204.7" y="480.7" text-anchor="end" font-size="9.5">10<tspan font-size="6.2" dy="-4.2">−6</tspan></text>
<text x="488.3" y="506.7" text-anchor="end" font-size="11.3">Energy [GeV]</text>
<text transform="translate(177.5,282.1) rotate(-90)" text-anchor="end" font-size="11.1">Particle Fraction / GeV</text>
<text x="316.4" y="300.9" font-size="11.4"><tspan font-weight="bold" font-style="italic">ATLAS</tspan> Simulation</text>
<path d="M323.2,314.1h29.8" stroke="#cf7848" stroke-width="1.4"/>
<text x="359.8" y="317.9" font-size="12">π</text>
<text x="368" y="313.3" font-size="8.8">+/-</text>
<path d="M323.2,330.7h29.8" stroke="#0aeef0" stroke-width="1.6" stroke-dasharray="1.6 1.8"/>
<text x="359.8" y="333.5" font-size="13.8">γ</text>
<path d="M323.2,347.3h29.8" stroke="#f23c3c" stroke-width="1.3" stroke-dasharray="1.2 1.1"/>
<text x="359.8" y="350.5" font-size="13.8">p/n</text>
<path d="M323.2,363.9h29.8" stroke="#111111" stroke-width="1.3" stroke-dasharray="2 1.5 0.8 1.5"/>
<text x="359.8" y="366.6" font-size="13.8">p/n</text>
<path d="M360.4,357.9h6.8M371.4,357.9h6.8" stroke="#111" stroke-width="1.15"/>
<path d="M417.4,314.1h13.2" stroke="#f25ce0" stroke-width="1.3" stroke-dasharray="3 1.5 0.9 1.5"/>
<text x="434" y="317.8" font-size="13.8">K</text>
<text x="443.4" y="312.7" font-size="8.8">+/-</text>
<path d="M417.4,330.7h13.2" stroke="#109a10" stroke-width="1.4"/>
<text x="434" y="333.2" font-size="13.8">K</text>
<text x="443.2" y="328.5" font-size="9.2">0</text>
<text x="443.2" y="337.8" font-size="9.2">S</text>
<path d="M417.4,347.3h13.2" stroke="#5ee05e" stroke-width="1.3" stroke-dasharray="2.6 3"/>
<text x="434" y="349.3" font-size="13.8">K</text>
<text x="443.2" y="345.3" font-size="9.2">0</text>
<text x="443.2" y="354.6" font-size="9.2">L</text>
<path d="M417.4,363.9h13.2" stroke="#1a1ae6" stroke-width="1.5" stroke-dasharray="3 1.5 0.9 1.5"/>
<text x="434" y="366.7" font-size="13.8">Other</text>
<text x="223.1" y="451.8" font-size="11.3">s=8 TeV, PYTHIA8 Dijets</text>
<path d="M218.8,447.4l1.1,-0.7 l1.9,4.9 l1.7,-9.3 h6.2" stroke="#222" stroke-width="0.85" fill="none"/>
<text x="217.5" y="468.6" font-size="11.1">1800&lt; p</text>
<text x="258.4" y="460.7" font-size="7.4">jet</text>
<text x="258.4" y="473.5" font-size="8">T</text>
<text x="266" y="468.6" font-size="11.1" xml:space="preserve"> / GeV &lt;2300, |η|&lt;0.6</text>
<text x="366.7" y="520.1" text-anchor="middle" font-size="13.6" font-weight="bold" class="serif">(c)</text>
</svg></body></html>
